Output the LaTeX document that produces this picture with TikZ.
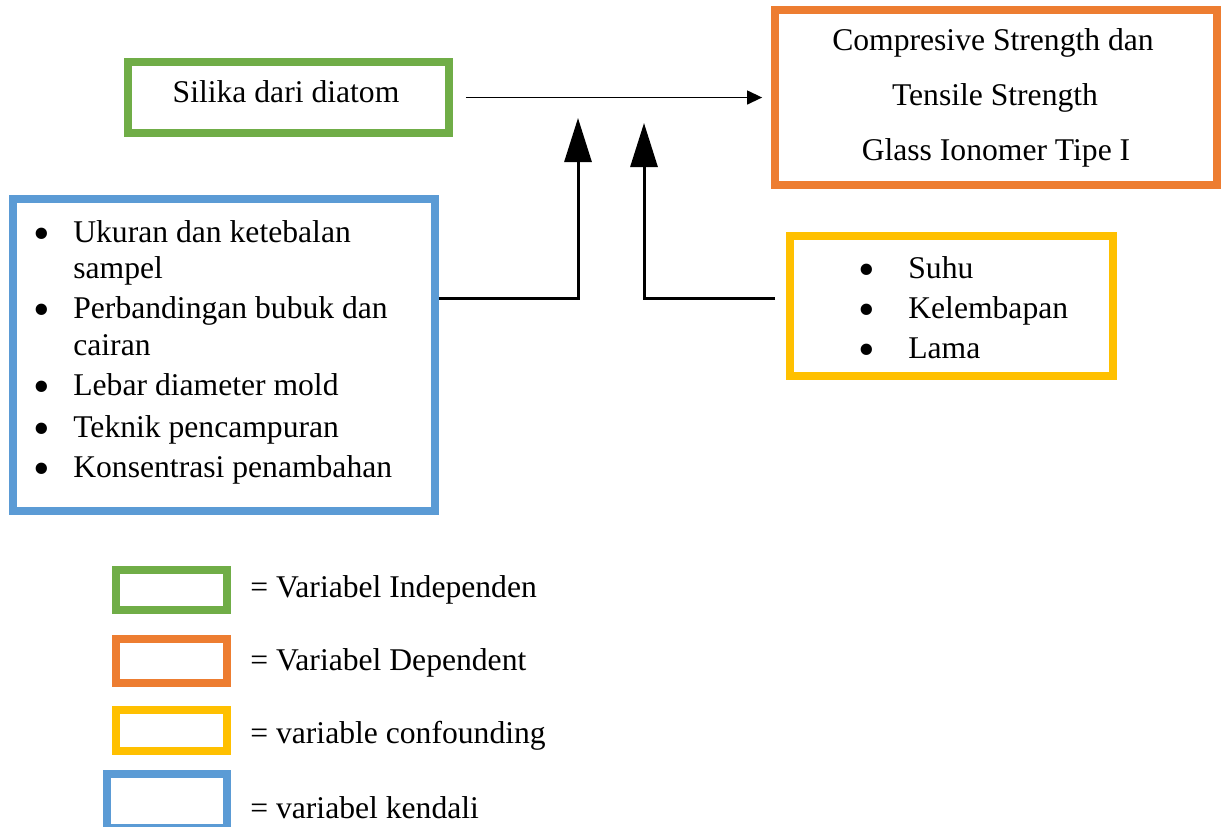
\documentclass[tikz,border=0pt]{standalone}
\usepackage{fontspec}
\setmainfont{Liberation Serif}
\usetikzlibrary{arrows.meta}
\definecolor{indep}{HTML}{70AD47}
\definecolor{dep}{HTML}{ED7D31}
\definecolor{confound}{HTML}{FFC000}
\definecolor{kendali}{HTML}{5B9BD5}

\begin{document}
\begin{tikzpicture}
  [x=0.02cm, y=-0.02cm,
   var box/.style={draw=#1, line width=4.5pt, fill=white, inner sep=0pt},
   txt/.style={font=\fontsize{18}{22}\selectfont, inner sep=0pt},
   dot/.style={font=\fontsize{27}{27}\selectfont, inner sep=0pt, anchor=base, yshift=-0.14cm},
   thin arrow/.style={line width=0.75pt, -{Triangle[length=0.3cm, width=0.28cm]}},
   thick arrow/.style={line width=1.7pt, -{Triangle[length=0.88cm, width=0.54cm]}}]

  \useasboundingbox (0,0) rectangle (1223,826);

  % boxes
  \node [var box = indep, minimum width=6.42cm, minimum height=1.42cm] (Silika) at (288.5,97.5) {};
  \node [var box = dep, minimum width=8.84cm, minimum height=3.5cm] (Strength) at (996,97.5) {};
  \node [var box = kendali, minimum width=8.44cm, minimum height=6.24cm] (Kendali) at (224,355) {};
  \node [var box = confound, minimum width=6.46cm, minimum height=2.8cm] (Confound) at (951.5,306) {};

  % texts
  \node [txt, anchor=base] (silika text) at (286,102) {Silika dari diatom};
  \node [txt, anchor=base] (strength a) at (993,50) {Compresive Strength dan};
  \node [txt, anchor=base] (strength b) at (995,105) {Tensile Strength};
  \node [txt, anchor=base] (strength c) at (996,160) {Glass Ionomer Tipe I};

  \node [dot] (kb1) at (42,242) {•};
  \node [txt, anchor=base west] (k1) at (73,242) {Ukuran dan ketebalan};
  \node [txt, anchor=base west] (k1b) at (73,278) {sampel};
  \node [dot] (kb2) at (42,318) {•};
  \node [txt, anchor=base west] (k2) at (73,318) {Perbandingan bubuk dan};
  \node [txt, anchor=base west] (k2b) at (73,355) {cairan};
  \node [dot] (kb3) at (42,395) {•};
  \node [txt, anchor=base west] (k3) at (73,395) {Lebar diameter mold};
  \node [dot] (kb4) at (42,437) {•};
  \node [txt, anchor=base west] (k4) at (73,437) {Teknik pencampuran};
  \node [dot] (kb5) at (42,477) {•};
  \node [txt, anchor=base west] (k5) at (73,477) {Konsentrasi penambahan};

  \node [dot] (cb1) at (867,278) {•};
  \node [txt, anchor=base west] (c1) at (908,278) {Suhu};
  \node [dot] (cb2) at (867,318) {•};
  \node [txt, anchor=base west] (c2) at (908,318) {Kelembapan};
  \node [dot] (cb3) at (867,358) {•};
  \node [txt, anchor=base west] (c3) at (908,358) {Lama};

  % arrows
  \coordinate (tipA) at (578,118);
  \coordinate (bendA) at (578,298);
  \coordinate (tipB) at (644,123);
  \coordinate (bendB) at (644,298);

  \draw [thin arrow, shorten <=0.26cm, shorten >=0.18cm] (Silika) -- (Strength);
  \draw [thick arrow] (Kendali.east |- bendA) -- (bendA) -- (tipA);
  \draw [thick arrow, shorten <=0.22cm] (Confound.west |- bendB) -- (bendB) -- (tipB);

  % legend
  \node [var box = indep, minimum width=2.22cm, minimum height=0.8cm] (key indep) at (171.5,590) {};
  \node [var box = dep, minimum width=2.22cm, minimum height=0.88cm] (key dep) at (171.5,661) {};
  \node [var box = confound, minimum width=2.22cm, minimum height=0.82cm] (key confound) at (171.5,730.5) {};
  \node [var box = kendali, minimum width=2.4cm, minimum height=1.08cm] (key kendali) at (167,801) {};

  \node [txt, anchor=base west] (key indep text) at (250,597) {= Variabel Independen};
  \node [txt, anchor=base west] (key dep text) at (250,670) {= Variabel Dependent};
  \node [txt, anchor=base west] (key confound text) at (250,743) {= variable confounding};
  \node [txt, anchor=base west] (key kendali text) at (250,818) {= variabel kendali};

\end{tikzpicture}
\end{document}
